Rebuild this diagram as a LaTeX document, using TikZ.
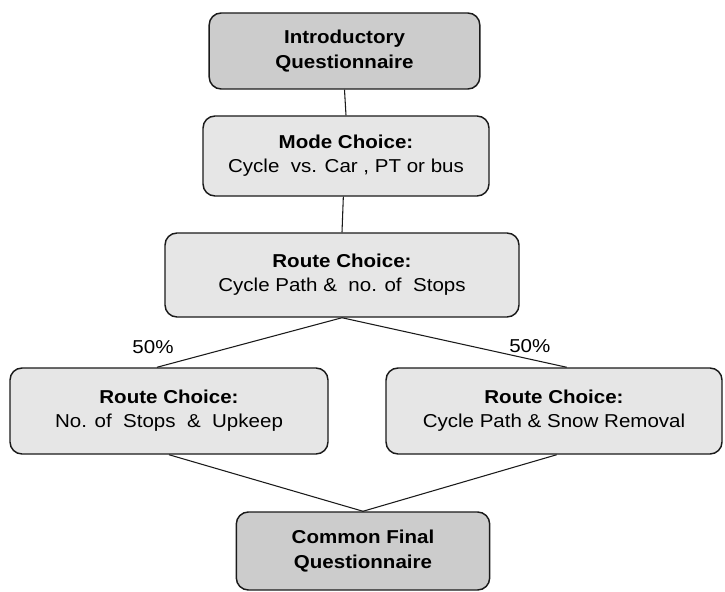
\documentclass[tikz,border=0pt]{standalone}
\usepackage{fontspec}
\setmainfont{Liberation Sans}[FakeStretch=1.1]
\definecolor{escuro}{HTML}{CCCCCC}
\definecolor{claro}{HTML}{E6E6E6}
\definecolor{tinta}{HTML}{1A1A1A}

\begin{document}
\begin{tikzpicture}[x=0.75pt,y=-0.75pt,font=\fontsize{14pt}{18pt}\selectfont,
  caixa/.style={draw=tinta, line width=1.1pt, rounded corners=9pt, align=center, inner sep=0pt},
  qst/.style={caixa, fill=escuro, font=\fontsize{14pt}{18.5pt}\selectfont\bfseries},
  chc/.style={caixa, fill=claro},
  liga/.style={draw=tinta, line width=0.8pt},
  pct/.style={font=\fontsize{14pt}{18pt}\selectfont, inner sep=0pt}]
\useasboundingbox (0,0) rectangle (725,592);
% questionarios
\node[qst, minimum width=203pt, minimum height=57pt] (intro) at (344.5,51) {Introductory\\Questionnaire};
\node[qst, minimum width=190pt, minimum height=58.5pt] (final) at (363,551) {Common Final\\Questionnaire};
% escolhas
\node[chc, minimum width=214.5pt, minimum height=60pt] (mode) at (346,156) {\textbf{Mode Choice:}\\Cycle\ \ vs. Car , PT or bus};
\node[chc, minimum width=265.5pt, minimum height=63pt] (route) at (342,275) {\textbf{Route Choice:}\\Cycle Path \&\ \ no. of\ \ Stops};
\node[chc, minimum width=238.5pt, minimum height=64.5pt] (stops) at (169,411) {\textbf{Route Choice:}\\No. of\ \ Stops\ \ \&\ \ Upkeep};
\node[chc, minimum width=252pt, minimum height=64.5pt] (snow) at (554,411) {\textbf{Route Choice:}\\Cycle Path \& Snow Removal};
% ligacoes
\draw[liga] (intro.south) -- (mode.north);
\draw[liga] ([xshift=-2pt]mode.south) -- (route.north);
\draw[liga] (route.south) -- ([xshift=-9pt]stops.north) node[pct, pos=1, xshift=-3pt, yshift=15pt] {50\%};
\draw[liga] (route.south) -- ([xshift=9.5pt]snow.north) node[pct, pos=0.836, yshift=9.5pt] {50\%};
\draw[liga] (stops.south) -- (final.north);
\draw[liga] ([xshift=2pt]snow.south) -- (final.north);
\end{tikzpicture}
\end{document}
